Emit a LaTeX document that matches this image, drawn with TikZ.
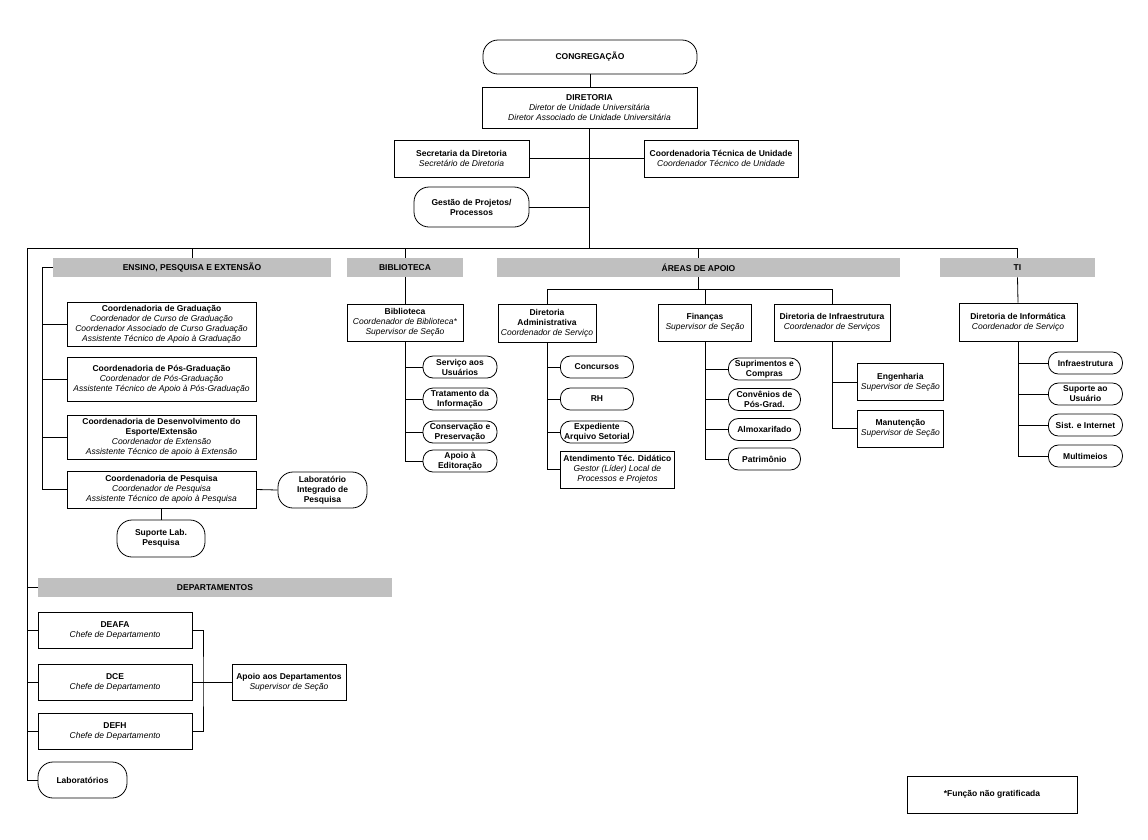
\documentclass[tikz,border=0pt]{standalone}
\usepackage{fontspec}
\setmainfont{Liberation Sans}
\definecolor{barGray}{RGB}{192,192,192}

\begin{document}
\begin{tikzpicture}[x=1pt,y=-1pt,line width=0.8pt,
    font=\fontsize{8.5}{10}\selectfont,
    every node/.style={inner sep=1pt,align=center},
    box/.style={draw,line width=0.8pt},
    pill/.style={draw,line width=0.8pt,rounded corners=10pt},
    bigpill/.style={draw,line width=0.8pt,rounded corners=15pt},
    bar/.style={fill=barGray,minimum height=19pt,font=\fontsize{8.5}{10}\selectfont\bfseries}]
      \useasboundingbox (0,0) rectangle (1148,839);

      % direcao
      \node[bigpill,minimum width=214pt,minimum height=34pt] (congr) at (590,57) {\textbf{CONGREGAÇÃO}};
      \node[box,minimum width=215pt,minimum height=41pt] (dir) at (589.5,107.5)
        {\textbf{DIRETORIA}\\\textit{Diretor de Unidade Universitária}\\\textit{Diretor Associado de Unidade Universitária}};
      \node[box,minimum width=135pt,minimum height=37pt] (sec) at (461.5,158.5)
        {\textbf{Secretaria da Diretoria}\\\textit{Secretário de Diretoria}};
      \node[box,minimum width=154pt,minimum height=37pt] (cte) at (721,158.5)
        {\textbf{Coordenadoria Técnica de Unidade}\\\textit{Coordenador Técnico de Unidade}};
      \node[bigpill,minimum width=115pt,minimum height=40pt] (gest) at (471.5,207)
        {\textbf{Gestão de Projetos/}\\\textbf{Processos}};

      % faixas
      \node[bar,minimum width=278pt] (epe) at (192,267.5) {ENSINO, PESQUISA E EXTENSÃO};
      \node[bar,minimum width=116pt] (bib) at (405,267.5) {BIBLIOTECA};
      \node[bar,minimum width=403pt] (areas) at (698.5,267.5) {ÁREAS DE APOIO};
      \node[bar,minimum width=155pt] (ti) at (1017.5,267.5) {TI};
      \node[bar,minimum width=354pt] (deps) at (215,587.5) {DEPARTAMENTOS};

      % ensino, pesquisa e extensao
      \node[box,minimum width=189pt,minimum height=44pt] (grad) at (161.5,324)
        {\textbf{Coordenadoria de Graduação}\\\textit{Coordenador de Curso de Graduação}\\
         \textit{Coordenador Associado de Curso Graduação}\\\textit{Assistente Técnico de Apoio à Graduação}};
      \node[box,minimum width=189pt,minimum height=44pt] (posg) at (161.5,379)
        {\textbf{Coordenadoria de Pós-Graduação}\\\textit{Coordenador de Pós-Graduação}\\
         \textit{Assistente Técnico de Apoio à Pós-Graduação}};
      \node[box,minimum width=189pt,minimum height=44pt] (desv) at (161.5,437)
        {\textbf{Coordenadoria de Desenvolvimento do}\\\textbf{Esporte/Extensão}\\
         \textit{Coordenador de Extensão}\\\textit{Assistente Técnico de apoio à Extensão}};
      \node[box,minimum width=189pt,minimum height=37pt] (pesq) at (161.5,489.5)
        {\textbf{Coordenadoria de Pesquisa}\\\textit{Coordenador de Pesquisa}\\
         \textit{Assistente Técnico de apoio à Pesquisa}};
      \node[bigpill,minimum width=89pt,minimum height=36pt] (labint) at (322.5,490)
        {\textbf{Laboratório}\\\textbf{Integrado de}\\\textbf{Pesquisa}};
      \node[bigpill,minimum width=88pt,minimum height=37pt] (suplab) at (161,538.5)
        {\textbf{Suporte Lab.}\\\textbf{Pesquisa}};

      % biblioteca
      \node[box,minimum width=116pt,minimum height=37pt] (biblio) at (405,322.5)
        {\textbf{Biblioteca}\\\textit{Coordenador de Biblioteca*}\\\textit{Supervisor de Seção}};
      \node[pill,minimum width=74pt,minimum height=22pt] (serv) at (460,367) {\textbf{Serviço aos}\\\textbf{Usuários}};
      \node[pill,minimum width=74pt,minimum height=22pt] (trat) at (460,399) {\textbf{Tratamento da}\\\textbf{Informação}};
      \node[pill,minimum width=74pt,minimum height=22pt] (cons) at (460,432) {\textbf{Conservação e}\\\textbf{Preservação}};
      \node[pill,minimum width=74pt,minimum height=22pt] (apoio) at (460,461) {\textbf{Apoio à}\\\textbf{Editoração}};

      % areas de apoio
      \node[box,minimum width=98pt,minimum height=38pt] (diradm) at (547,323)
        {\textbf{Diretoria}\\\textbf{Administrativa}\\\textit{Coordenador de Serviço}};
      \node[box,minimum width=93pt,minimum height=37pt] (fin) at (705,322.5)
        {\textbf{Finanças}\\\textit{Supervisor de Seção}};
      \node[box,minimum width=116pt,minimum height=37pt] (infra) at (832,322.5)
        {\textbf{Diretoria de Infraestrutura}\\\textit{Coordenador de Serviços}};

      \node[pill,anchor=west,minimum width=73pt,minimum height=22pt] (conc) at (560,367) {\textbf{Concursos}};
      \node[pill,anchor=west,minimum width=73pt,minimum height=22pt] (rh) at (560,399) {\textbf{RH}};
      \node[pill,anchor=west,minimum width=73pt,minimum height=22pt] (exped) at (560,432)
        {\textbf{Expediente}\\\textbf{Arquivo Setorial}};
      \node[box,anchor=west,minimum width=114pt,minimum height=37pt] (aten) at (560,469.5)
        {\textbf{Atendimento Téc. Didático}\\\textit{Gestor (Líder) Local de}\\\textit{Processos e Projetos}};

      \node[pill,anchor=west,minimum width=72pt,minimum height=22pt] (supr) at (728,369) {\textbf{Suprimentos e}\\\textbf{Compras}};
      \node[pill,anchor=west,minimum width=72pt,minimum height=22pt] (conv) at (728,399.5) {\textbf{Convênios de}\\\textbf{Pós-Grad.}};
      \node[pill,anchor=west,minimum width=72pt,minimum height=22pt] (almox) at (728,429.5) {\textbf{Almoxarifado}};
      \node[pill,anchor=west,minimum width=72pt,minimum height=22pt] (patr) at (728,459) {\textbf{Patrimônio}};

      \node[box,anchor=west,minimum width=86pt,minimum height=37pt] (eng) at (857,382)
        {\textbf{Engenharia}\\\textit{Supervisor de Seção}};
      \node[box,anchor=west,minimum width=86pt,minimum height=37pt] (man) at (857,428.5)
        {\textbf{Manutenção}\\\textit{Supervisor de Seção}};

      % ti
      \node[box,minimum width=118pt,minimum height=38pt] (dirinf) at (1018,322)
        {\textbf{Diretoria de Informática}\\\textit{Coordenador de Serviço}};
      \node[pill,anchor=west,minimum width=74pt,minimum height=22pt] (infr) at (1048,363) {\textbf{Infraestrutura}};
      \node[pill,anchor=west,minimum width=74pt,minimum height=22pt] (supu) at (1048,394) {\textbf{Suporte ao}\\\textbf{Usuário}};
      \node[pill,anchor=west,minimum width=74pt,minimum height=22pt] (sist) at (1048,425) {\textbf{Sist. e Internet}};
      \node[pill,anchor=west,minimum width=74pt,minimum height=22pt] (mult) at (1048,456) {\textbf{Multimeios}};

      % departamentos
      \node[box,minimum width=154pt,minimum height=36pt] (deafa) at (115,630)
        {\textbf{DEAFA}\\\textit{Chefe de Departamento}};
      \node[box,minimum width=154pt,minimum height=36pt] (dce) at (115,682)
        {\textbf{DCE}\\\textit{Chefe de Departamento}};
      \node[box,minimum width=154pt,minimum height=36pt] (defh) at (115,731)
        {\textbf{DEFH}\\\textit{Chefe de Departamento}};
      \node[box,minimum width=114pt,minimum height=36pt] (apdep) at (289,682)
        {\textbf{Apoio aos Departamentos}\\\textit{Supervisor de Seção}};
      \node[bigpill,minimum width=89pt,minimum height=36pt] (lab) at (82.5,780) {\textbf{Laboratórios}};

      \node[box,minimum width=170pt,minimum height=37pt] (nota) at (992,794.5) {\textbf{*Função não gratificada}};

      % ligacoes
      \coordinate (busL) at (27,248);
      \coordinate (busR) at (1017.5,248);
      \draw (congr.south) -- (congr.south |- dir.north);
      \draw (dir.south) -- (dir.south |- busL);
      \draw (sec.east) -- (cte.west);
      \draw (gest.east) -- (gest.east -| dir.south);
      \draw (busL) -- (busR) -- (ti.north);
      \foreach \n in {epe,bib,areas}
        \draw (\n.north |- busL) -- (\n.north);

      \draw (busL) |- (lab.west);
      \draw (busL |- deps.west) -- (deps.west);
      \foreach \n in {deafa,dce,defh}
        \draw (busL |- \n.west) -- (\n.west);
      \coordinate (depJ) at (203,682);
      \draw (deafa.east) -| (depJ) |- (defh.east);
      \draw (dce.east) -- (apdep.west);

      \coordinate (epeL) at (42,267.5);
      \draw (epe.west) -- (epeL) |- (pesq.west);
      \foreach \n in {grad,posg,desv}
        \draw (epeL |- \n.west) -- (\n.west);
      \draw (pesq.east) -- (labint.west);
      \draw (suplab.north |- pesq.south) -- (suplab.north);

      \draw (bib.south) -- (biblio.north);
      \draw (biblio.south) |- (apoio.west);
      \foreach \n in {serv,trat,cons}
        \draw (biblio.south |- \n.west) -- (\n.west);

      \coordinate (areasJ) at (698.5,289);
      \draw (areas.south) -- (areasJ);
      \draw (diradm.north) |- (infra.north |- areasJ) -- (infra.north);
      \draw (fin.north) -- (fin.north |- areasJ);
      \draw (diradm.south) |- (aten.west);
      \foreach \n in {conc,rh,exped}
        \draw (diradm.south |- \n.west) -- (\n.west);
      \draw (fin.south) |- (patr.west);
      \foreach \n in {supr,conv,almox}
        \draw (fin.south |- \n.west) -- (\n.west);
      \draw (infra.south) |- (man.west);
      \draw (infra.south |- eng.west) -- (eng.west);

      \draw (ti.south) -- (dirinf.north);
      \draw (dirinf.south) |- (mult.west);
      \foreach \n in {infr,supu,sist}
        \draw (dirinf.south |- \n.west) -- (\n.west);
    \end{tikzpicture}
\end{document}
